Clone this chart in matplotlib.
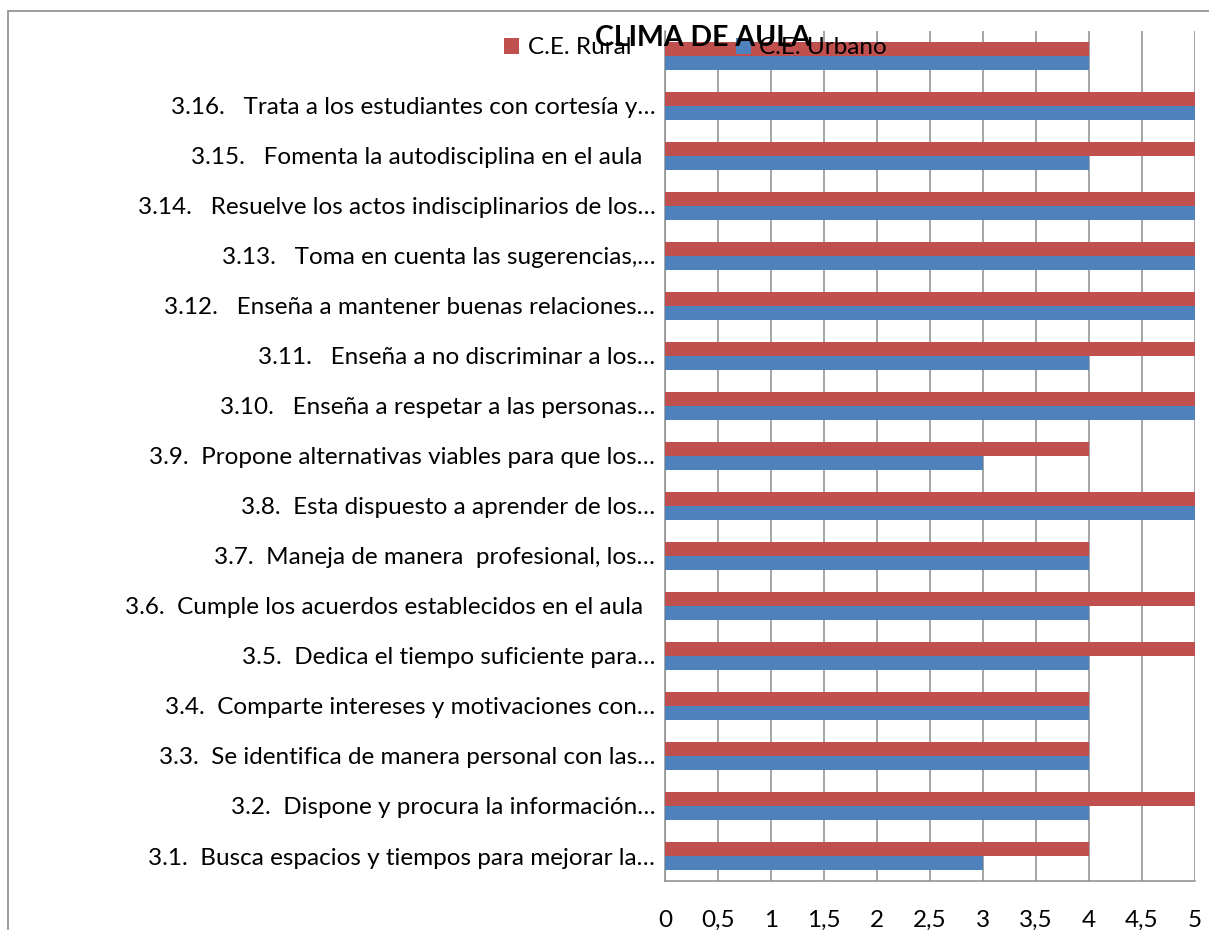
import numpy as np
import matplotlib
matplotlib.use("Agg")
import matplotlib.pyplot as plt
from matplotlib.patches import Rectangle

# ------------------------------------------------------------------
# Datos (de abajo hacia arriba, como los dibuja barh)
# ------------------------------------------------------------------
categorias = [
    "3.1.  Busca espacios y tiempos para mejorar la…",
    "3.2.  Dispone y procura la información…",
    "3.3.  Se identifica de manera personal con las…",
    "3.4.  Comparte intereses y motivaciones con…",
    "3.5.  Dedica el tiempo suficiente para…",
    "3.6.  Cumple los acuerdos establecidos en el aula  ",
    "3.7.  Maneja de manera  profesional, los…",
    "3.8.  Esta dispuesto a aprender de los…",
    "3.9.  Propone alternativas viables para que los…",
    "3.10.   Enseña a respetar a las personas…",
    "3.11.   Enseña a no discriminar a los…",
    "3.12.   Enseña a mantener buenas relaciones…",
    "3.13.   Toma en cuenta las sugerencias,…",
    "3.14.   Resuelve los actos indisciplinarios de los…",
    "3.15.   Fomenta la autodisciplina en el aula  ",
    "3.16.   Trata a los estudiantes con cortesía y…",
    "",
]
rural = [4, 5, 4, 4, 5, 5, 4, 5, 4, 5, 5, 5, 5, 5, 5, 5, 4]
urbano = [3, 4, 4, 4, 4, 4, 4, 5, 3, 5, 4, 5, 5, 5, 4, 5, 4]
series = ["C.E. Rural", "C.E. Urbano"]
ticks_x = [0, 0.5, 1, 1.5, 2, 2.5, 3, 3.5, 4, 4.5, 5]
titulo = "CLIMA DE AULA"

# ------------------------------------------------------------------
# Estilo (colores de Excel 2007)
# ------------------------------------------------------------------
PALETTE = {
    "rojo": "#C0504D",
    "azul": "#4F81BD",
    "grid": "#8C8C8C",
    "texto": "#000000",
}
FS = 17.5
plt.rcParams["font.family"] = ["Lato", "DejaVu Sans"]

W, H = 1209, 930
fig = plt.figure(figsize=(W / 100, H / 100), dpi=100)
fig.patch.set_facecolor("white")

# marco exterior del gráfico
fig.patches.append(Rectangle((8 / W, -0.1), 1.2, 1 - 11 / H + 0.1,
                             transform=fig.transFigure, fill=False,
                             edgecolor=PALETTE["grid"], linewidth=1.2))

ax = fig.add_axes([665 / W, 1 - 881 / H, 530 / W, 850 / H])

y = np.arange(len(categorias))
alto = 0.28
b_rural = ax.barh(y + alto / 2, rural, height=alto, color=PALETTE["rojo"],
                  label=series[0], zorder=3)
b_urbano = ax.barh(y - alto / 2, urbano, height=alto, color=PALETTE["azul"],
                   label=series[1], zorder=3)

ax.set_xlim(0, 5)
ax.set_ylim(-0.5, len(categorias) - 0.5)
ax.set_xticks(ticks_x)
ax.set_xticklabels([f"{t:g}".replace(".", ",") for t in ticks_x], fontsize=FS)
ax.set_yticks(y)
ax.set_yticklabels(categorias, fontsize=FS)
ax.tick_params(axis="x", length=0, pad=21)
ax.tick_params(axis="y", length=0, pad=7)

ax.grid(axis="x", color=PALETTE["grid"], linewidth=1.1)
ax.set_axisbelow(True)
for lado in ("top", "right"):
    ax.spines[lado].set_visible(False)
for lado in ("left", "bottom"):
    ax.spines[lado].set_edgecolor(PALETTE["grid"])
    ax.spines[lado].set_linewidth(1.1)

# leyenda arriba, solapada con el título (como en el original)
fig.legend(handles=[b_rural, b_urbano], labels=series, loc="center left",
           bbox_to_anchor=(504 / W, 1 - 48 / H), ncol=2, frameon=False,
           fontsize=FS, handlelength=0.62, handleheight=0.62,
           handletextpad=0.35, columnspacing=4.3, borderpad=0, borderaxespad=0)

fig.text(703 / W, 1 - 38 / H, titulo, ha="center", va="center",
         fontsize=20.5, fontweight="bold", color=PALETTE["texto"], zorder=10)

fig.savefig("out.png", dpi=100, facecolor=fig.get_facecolor())
